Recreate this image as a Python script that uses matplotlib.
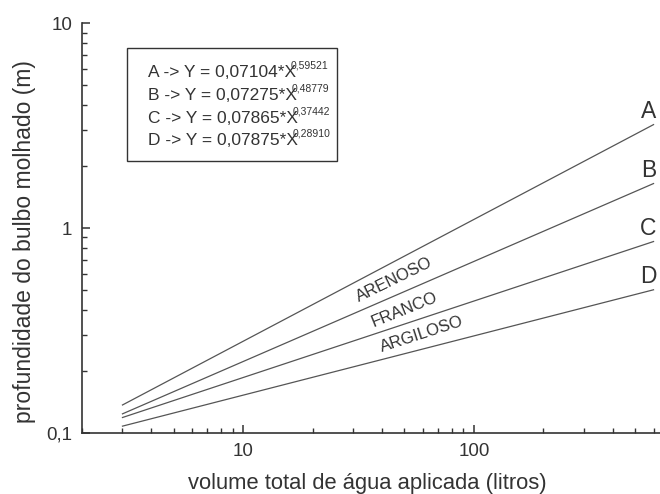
import matplotlib
matplotlib.use('Agg')
import matplotlib.pyplot as plt
from matplotlib.ticker import FixedLocator, LogLocator, NullFormatter

plt.rcParams['font.family'] = ['Liberation Sans', 'DejaVu Sans']

# curve end points (straight lines on log-log axes)
series = ['A', 'B', 'C', 'D']
x_ends = [3, 600]
y_start = [0.137, 0.124, 0.119, 0.108]
y_end = [3.20, 1.65, 0.86, 0.50]

equations = ['A -> Y = 0,07104*X', 'B -> Y = 0,07275*X',
             'C -> Y = 0,07865*X', 'D -> Y = 0,07875*X']
exponents = ['0,59521', '0,48779', '0,37442', '0,28910']

soils = ['ARENOSO', 'FRANCO', 'ARGILOSO']
soil_x = [45.1, 50.2, 59.6]
soil_y = [0.5575, 0.398, 0.303]
soil_rot = [26, 22, 18]

y_ticks = [0.1, 1, 10]
y_ticklabels = ['0,1', '1', '10']
x_ticks = [10, 100]
x_ticklabels = ['10', '100']

ink = '#333333'
line_col = '#555555'

fig = plt.figure(figsize=(6.6, 4.94), dpi=100)
ax = fig.add_axes([0.124, 0.1235, 0.876, 0.8295])

for i, s in enumerate(series):
    ax.plot(x_ends, [y_start[i], y_end[i]], color=line_col, lw=0.9)
    ax.annotate(s, xy=(x_ends[1], y_end[i]), xytext=(-5, 13),
                textcoords='offset pixels', ha='center', va='center',
                fontsize=16.5, color=ink)

ax.set_xscale('log')
ax.set_yscale('log')
ax.set_xlim(2, 640)
ax.set_ylim(0.1, 10)

for side in ['top', 'right']:
    ax.spines[side].set_visible(False)
for side in ['left', 'bottom']:
    ax.spines[side].set_color(ink)
    ax.spines[side].set_linewidth(1.2)

ax.yaxis.set_major_locator(FixedLocator(y_ticks))
ax.set_yticklabels(y_ticklabels)
ax.xaxis.set_major_locator(FixedLocator(x_ticks))
ax.set_xticklabels(x_ticklabels)
ax.xaxis.set_minor_locator(LogLocator(base=10, subs=range(2, 10)))
ax.yaxis.set_minor_locator(LogLocator(base=10, subs=range(2, 10)))
ax.xaxis.set_minor_formatter(NullFormatter())
ax.yaxis.set_minor_formatter(NullFormatter())
ax.tick_params(which='both', direction='in', colors=ink, labelsize=13.5)
ax.tick_params(which='major', length=6, width=1.1, pad=7)
ax.tick_params(which='minor', length=3.5, width=1.0)

ax.set_xlabel('volume total de água aplicada (litros)', fontsize=15.8, color=ink)
ax.set_ylabel('profundidade do bulbo molhado (m)', fontsize=16.5, color=ink)
ax.xaxis.set_label_coords(0.493, -0.124)
ax.xaxis.label.set_va('center')
ax.yaxis.set_label_coords(-0.0986, 0.466)
ax.yaxis.label.set_va('center')

# equation box
box = plt.Rectangle((0.078, 0.663), 0.363, 0.276, transform=ax.transAxes,
                    fill=False, edgecolor=ink, lw=1.0)
ax.add_patch(box)
eq_y = [0.880, 0.824, 0.768, 0.715]
for i, eq in enumerate(equations):
    t = ax.text(0.114, eq_y[i], eq, transform=ax.transAxes, fontsize=12.5,
                color=ink, ha='left', va='center')
    ax.annotate(exponents[i], xy=(1, 0.95), xycoords=t, xytext=(-5, 0),
                textcoords='offset pixels', ha='left', va='center',
                fontsize=7.5, color=ink)

for i, s in enumerate(soils):
    ax.text(soil_x[i], soil_y[i], s, rotation=soil_rot[i], ha='center',
            va='center', fontsize=12, color=ink, rotation_mode='anchor')

fig.savefig('out.png', dpi=100)
